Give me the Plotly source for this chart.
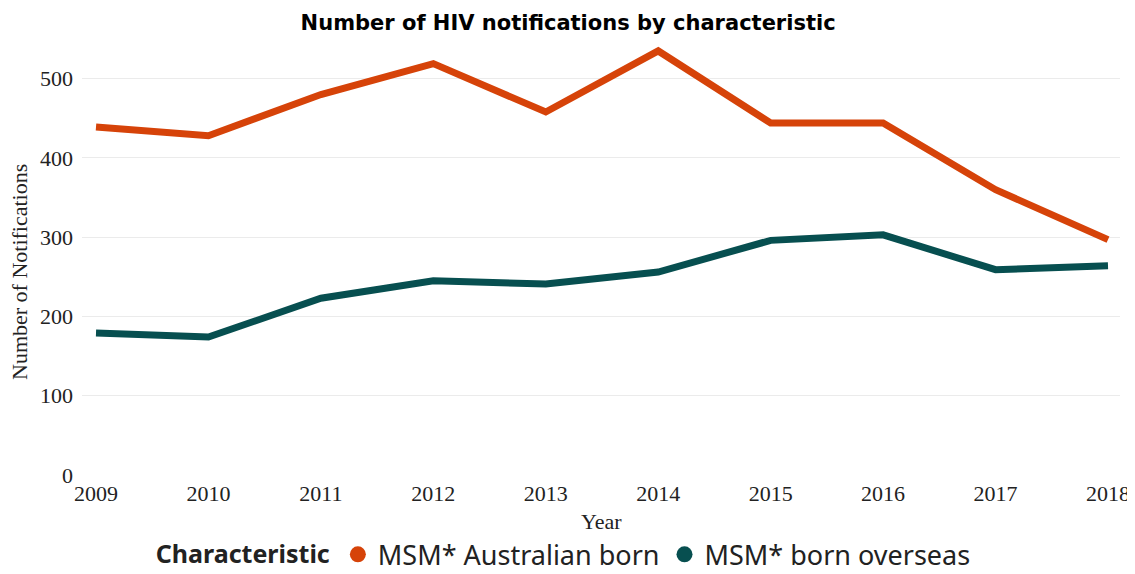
import plotly.graph_objects as go

years = [2009, 2010, 2011, 2012, 2013, 2014, 2015, 2016, 2017, 2018]
msm_australian = [439, 428, 480, 519, 458, 535, 444, 444, 360, 297]
msm_overseas = [179, 174, 223, 245, 241, 256, 296, 303, 259, 264]
series_names = ["MSM* Australian born", "MSM* born overseas"]
colors = ["#D64309", "#074F50"]

fig = go.Figure()
for name, vals, col in zip(series_names, [msm_australian, msm_overseas], colors):
    fig.add_trace(go.Scatter(x=years, y=vals, mode="lines", name=name,
                             line=dict(color=col, width=7), showlegend=False))
    fig.add_trace(go.Scatter(x=[None], y=[None], mode="markers", name=name,
                             marker=dict(color=col, size=17, symbol="circle")))

serif = "Liberation Serif, Times New Roman, serif"
sans = "Noto Sans, Open Sans, sans-serif"
# the page body has an 8px margin, so the figure is 8px smaller than the window
fig.update_layout(
    width=1127, height=566,
    paper_bgcolor="white", plot_bgcolor="white",
    margin=dict(l=74, r=15, t=35, b=99, autoexpand=False),
    title=dict(text="<b>Number of HIV notifications by characteristic</b>",
               x=0.497, xanchor="center", y=0.975, yanchor="middle",
               font=dict(family="DejaVu Sans, sans-serif", size=21, color="black")),
    xaxis=dict(range=[2008.8755, 2018.1067], tickmode="array", tickvals=years,
               ticktext=[str(y) for y in years], showgrid=False, zeroline=False,
               tickfont=dict(family=serif, size=22, color="#222"), ticklabelstandoff=3),
    yaxis=dict(range=[0, 545], tickvals=[0, 100, 200, 300, 400, 500],
               showgrid=True, gridcolor="#ebebeb", gridwidth=1, zeroline=False,
               tickfont=dict(family=serif, size=22, color="#222"), ticklabelstandoff=8),
    annotations=[
        dict(text="Number of Notifications", textangle=-90,
             xref="paper", yref="paper", x=-0.0597, y=0.470,
             xanchor="center", yanchor="middle", showarrow=False,
             font=dict(family=serif, size=22, color="#222")),
        dict(text="Year", xref="paper", yref="paper", x=0.5, y=-0.1065,
             xanchor="center", yanchor="middle", showarrow=False,
             font=dict(family=serif, size=22, color="#222")),
    ],
    legend=dict(orientation="h", x=0.494, xanchor="center", xref="container",
                y=0.034, yanchor="middle", yref="container",
                title=dict(text="<b>Characteristic</b>", side="left",
                           font=dict(family=sans, size=25, color="#222")),
                font=dict(family=sans, size=27, color="#222"),
                itemwidth=30, tracegroupgap=0),
)

fig.write_html("out.html")
